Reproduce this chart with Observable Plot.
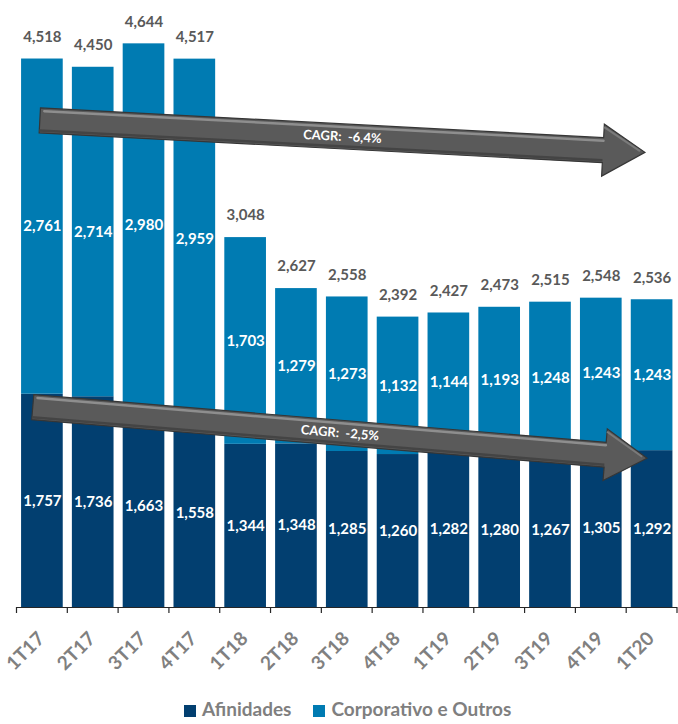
<!DOCTYPE html>
<html>
<head>
<meta charset="utf-8">
<script src="https://cdn.jsdelivr.net/npm/d3@7"></script>
<script src="https://cdn.jsdelivr.net/npm/@observablehq/plot@0.6"></script>
<style>
  html, body { margin: 0; padding: 0; background: #fff; }
  body { width: 678px; height: 724px; position: relative; overflow: hidden; font-family: Lato, "Open Sans", sans-serif; }
  #legend { position: absolute; left: 184px; top: 697px; height: 24px; line-height: 24px; white-space: nowrap;
            font-size: 19px; font-weight: 700; color: #7f7f7f; }
  #legend span.sw { display: inline-block; width: 12px; height: 12px; vertical-align: -1px; margin-right: 6px; }
  #legend span.item { margin-right: 22px; }
</style>
</head>
<body>
<div id="chart"></div>
<div id="legend"></div>
<script>
// ---- data ----
const quarters = ["1T17","2T17","3T17","4T17","1T18","2T18","3T18","4T18","1T19","2T19","3T19","4T19","1T20"];
const afinidades = [1757,1736,1663,1558,1344,1348,1285,1260,1282,1280,1267,1305,1292];
const corporativo = [2761,2714,2980,2959,1703,1279,1273,1132,1144,1193,1248,1243,1243];
const totals = [4518,4450,4644,4517,3048,2627,2558,2392,2427,2473,2515,2548,2536];
const seriesNames = ["Afinidades","Corporativo e Outros"];
const seriesColors = ["#023f70","#007bb2"];
// CAGR trend annotations (start / end level in data units)
const cagrLabels = ["CAGR:\u00a0 -6,4%","CAGR:\u00a0 -2,5%"];
const cagrStart = [4008, 1646];
const cagrEnd = [3745, 1226];

const fmt = d3.format(",");
const rows = quarters.flatMap((q, i) => [
  {q, s: seriesNames[0], v: afinidades[i], mid: afinidades[i] / 2},
  {q, s: seriesNames[1], v: corporativo[i], mid: afinidades[i] + corporativo[i] / 2}
]);

const font = "Lato, 'Open Sans', sans-serif";
const plot = Plot.plot({
  width: 678,
  height: 700,
  marginTop: 0,
  marginBottom: 93,
  marginLeft: 16.5,
  marginRight: 1,
  x: {domain: quarters, paddingInner: 0.18, paddingOuter: 0.09, round: false, axis: null},
  y: {domain: [0, 5000], axis: null},
  color: {domain: seriesNames, range: seriesColors},
  style: {fontFamily: font, background: "white", overflow: "visible"},
  marks: [
    Plot.barY(rows, {x: "q", y: "v", fill: "s", order: seriesNames}),
    Plot.text(rows, {x: "q", y: "mid", text: d => fmt(d.v), fill: "white", fontWeight: 700, fontSize: 15}),
    Plot.text(quarters, {x: d => d, y: (d, i) => afinidades[i] + corporativo[i], text: (d, i) => fmt(totals[i]),
      dy: -22, fill: "#595959", fontWeight: 700, fontSize: 15}),
    Plot.ruleY([0], {stroke: "#262626", strokeWidth: 1.2}),
    Plot.text(quarters, {x: d => d, y: 0, text: d => d, rotate: -45, textAnchor: "end", dy: 28, dx: -1,
      fill: "#808080", fontSize: 19, fontWeight: 700})
  ]
});
document.getElementById("chart").appendChild(plot);

// ---- axis ticks at band boundaries and CAGR arrows, positioned with Plot's scales ----
const xs = plot.scale("x"), ys = plot.scale("y");
const bw = xs.bandwidth, step = xs.step;
const center = q => xs.apply(q) + bw / 2;
const svg = d3.select(plot);
const y0 = ys.apply(0);
const bounds = quarters.map(q => center(q) - step / 2).concat([center(quarters[quarters.length - 1]) + step / 2]);
svg.append("g").selectAll("line").data(bounds).join("line")
  .attr("x1", d => d).attr("x2", d => d).attr("y1", y0).attr("y2", y0 + 6)
  .attr("stroke", "#262626").attr("stroke-width", 1.2);

const startFrac = [0.45, 0.28];
const endFrac = [0.34, 0.39];
const ag = svg.append("g");
cagrLabels.forEach((label, k) => {
  const first = quarters[0], last = quarters[quarters.length - 1];
  const p0 = [xs.apply(first) + bw * startFrac[k], ys.apply(cagrStart[k])];
  const p1 = [xs.apply(last) + bw * endFrac[k], ys.apply(cagrEnd[k])];
  const dx = p1[0] - p0[0], dy = p1[1] - p0[1];
  const len = Math.hypot(dx, dy);
  const u = [dx / len, dy / len];
  const n = [u[1], -u[0]]; // points up
  const h = 12.5, H = 26, headLen = 42;
  const hb = [p1[0] - u[0] * headLen, p1[1] - u[1] * headLen];
  const pt = (p, s) => [p[0] + n[0] * s, p[1] + n[1] * s];
  const poly = [pt(p0, h), pt(hb, h), pt(hb, H), p1, pt(hb, -H), pt(hb, -h), pt(p0, -h)];
  ag.append("polygon").attr("points", poly.map(p => p.join(",")).join(" "))
    .attr("fill", "#5a5a5a").attr("stroke", "#363636").attr("stroke-width", 1.2);
  // bevel highlights
  const a = pt(p0, h - 3), b = pt(hb, h - 3);
  ag.append("line").attr("x1", a[0] + u[0] * 4).attr("y1", a[1] + u[1] * 4).attr("x2", b[0]).attr("y2", b[1])
    .attr("stroke", "#8e8e8e").attr("stroke-width", 2.5).attr("stroke-linecap", "round");
  const c = pt(p0, -h + 2.5), d2 = pt(hb, -h + 2.5);
  ag.append("line").attr("x1", c[0]).attr("y1", c[1]).attr("x2", d2[0]).attr("y2", d2[1])
    .attr("stroke", "#444444").attr("stroke-width", 2.5);
  const e1 = pt(hb, H - 3), e2 = [p1[0] - u[0] * 5 + n[0] * 1, p1[1] - u[1] * 5 + n[1] * 1];
  ag.append("line").attr("x1", e1[0]).attr("y1", e1[1]).attr("x2", e2[0]).attr("y2", e2[1])
    .attr("stroke", "#7a7a7a").attr("stroke-width", 2);
  const tm = [p0[0] + dx * 0.5, p0[1] + dy * 0.5];
  const ang = Math.atan2(dy, dx) * 180 / Math.PI;
  ag.append("text").attr("transform", `translate(${tm[0]},${tm[1]}) rotate(${ang})`)
    .attr("text-anchor", "middle").attr("dy", "0.35em")
    .attr("fill", "white").attr("font-weight", 700).attr("font-size", 13).attr("font-family", font)
    .text(label);
});

// ---- legend ----
const legend = document.getElementById("legend");
seriesNames.forEach((name, i) => {
  const item = document.createElement("span");
  item.className = "item";
  const sw = document.createElement("span");
  sw.className = "sw";
  sw.style.background = seriesColors[i];
  item.appendChild(sw);
  item.appendChild(document.createTextNode(name));
  legend.appendChild(item);
});
</script>
</body>
</html>
